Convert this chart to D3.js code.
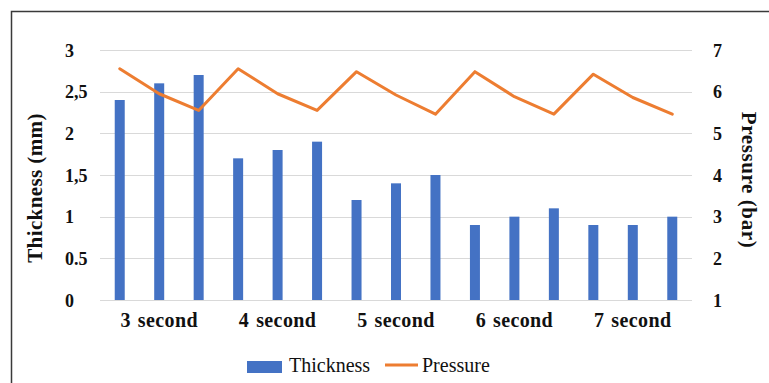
<!DOCTYPE html>
<html><head><meta charset="utf-8">
<script src="https://cdn.jsdelivr.net/npm/d3@7"></script>
<style>body{margin:0;background:#fff}svg{display:block}</style>
</head><body>
<svg id="c" width="769" height="383"></svg>
<script>
const groups = ["3 second","4 second","5 second","6 second","7 second"];
const barIds = d3.range(15).map(i => "b" + i);
const thickness = [2.4,2.6,2.7,1.7,1.8,1.9,1.2,1.4,1.5,0.9,1.0,1.1,0.9,0.9,1.0];
const pressure = [6.55,5.95,5.55,6.55,5.95,5.55,6.48,5.92,5.46,6.48,5.88,5.46,6.42,5.86,5.46];
const leftTicks = [0,0.5,1,1.5,2,2.5,3];
const leftTickLabels = ["0","0.5","1","1,5","2","2,5","3"];
const rightTicks = [1,2,3,4,5,6,7];

const svg = d3.select("#c");
const L = 100, R = 692, T = 50, B = 300;
const x = d3.scaleBand().domain(barIds).range([L, R]);
const yL = d3.scaleLinear().domain([0,3]).range([B, T]);
const yR = d3.scaleLinear().domain([1,7]).range([B, T]);
const font = '"Liberation Serif","Times New Roman","DejaVu Serif"';

// frame
svg.append("path").attr("d","M11.5,383 V11.5 H769").attr("fill","none").attr("stroke","#3a3a3a").attr("stroke-width",1.5);

// gridlines
svg.append("g").selectAll("line").data(leftTicks).join("line")
  .attr("x1",L).attr("x2",R).attr("y1",d=>Math.round(yL(d))+0.5).attr("y2",d=>Math.round(yL(d))+0.5)
  .attr("stroke","#d9d9d9").attr("stroke-width",1);

// left axis labels
const gl = svg.append("g").attr("transform","translate(65,0)")
  .call(d3.axisLeft(yL).tickValues(leftTicks).tickSize(0).tickFormat((d,i)=>leftTickLabels[i]));
gl.attr("font-family",font).attr("font-size",18).attr("font-weight","bold");
gl.select(".domain").remove();
gl.selectAll("text").attr("x",0).attr("text-anchor","start").attr("dy","0.35em").attr("fill","#111");

// right axis labels
const gr = svg.append("g").attr("transform","translate(713,0)")
  .call(d3.axisRight(yR).tickValues(rightTicks).tickSize(0).tickFormat(d3.format("d")));
gr.attr("font-family",font).attr("font-size",18).attr("font-weight","bold");
gr.select(".domain").remove();
gr.selectAll("text").attr("x",0).attr("text-anchor","start").attr("dy","0.35em").attr("fill","#111");

// bars
const bw = 10;
svg.append("g").selectAll("rect").data(thickness).join("rect")
  .attr("x",(d,i)=>x(barIds[i]) + x.bandwidth()/2 - bw/2)
  .attr("width",bw)
  .attr("y",d=>yL(d)).attr("height",d=>yL(0)-yL(d))
  .attr("fill","#4472C4");

// baseline
svg.append("line").attr("x1",L).attr("x2",R).attr("y1",B+0.5).attr("y2",B+0.5).attr("stroke","#d9d9d9");

// pressure line
const line = d3.line().x((d,i)=>x(barIds[i]) + x.bandwidth()/2).y(d=>yR(d));
svg.append("path").datum(pressure).attr("d",line).attr("fill","none")
  .attr("stroke","#ED7D31").attr("stroke-width",3).attr("stroke-linejoin","round").attr("stroke-linecap","round");

// x labels
svg.append("g").selectAll("text").data(groups).join("text")
  .attr("x",(d,i)=>x(barIds[i*3+1]) + x.bandwidth()/2)
  .attr("y",327).attr("text-anchor","middle")
  .attr("font-family",font).attr("font-size",20).attr("font-weight","bold").attr("fill","#111")
  .attr("word-spacing",1.5).attr("letter-spacing",0.4)
  .text(d=>d);

// axis titles
svg.append("text").attr("transform","translate(42,188) rotate(-90)").attr("text-anchor","middle")
  .attr("font-family",font).attr("font-size",21).attr("font-weight","bold").attr("fill","#111")
  .attr("letter-spacing",0.4)
  .text("Thickness (mm)");
svg.append("text").attr("transform","translate(742,180) rotate(90)").attr("text-anchor","middle")
  .attr("font-family",font).attr("font-size",21).attr("font-weight","bold").attr("fill","#111")
  .attr("letter-spacing",0.6)
  .text("Pressure (bar)");

// legend
const lg = svg.append("g").attr("font-family",font).attr("font-size",20).attr("fill","#111");
lg.append("rect").attr("x",247).attr("y",361).attr("width",35).attr("height",12).attr("fill","#4472C4");
lg.append("text").attr("x",289).attr("y",372).text("Thickness");
lg.append("line").attr("x1",385).attr("x2",418).attr("y1",365).attr("y2",365).attr("stroke","#ED7D31").attr("stroke-width",3);
lg.append("text").attr("x",422).attr("y",372).text("Pressure");
</script>
</body></html>
